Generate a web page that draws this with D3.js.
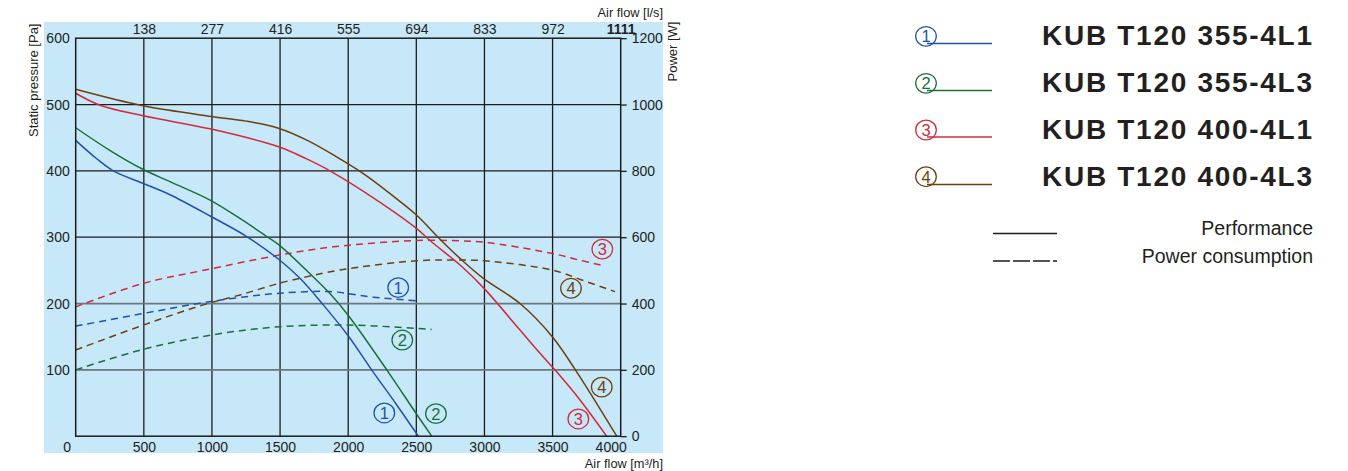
<!DOCTYPE html>
<html><head><meta charset="utf-8">
<script src="https://cdn.jsdelivr.net/npm/d3@7"></script>
<style>
body{margin:0;background:#fff}
svg{display:block}
text{font-family:"Liberation Sans",Arial,Helvetica,sans-serif;fill:#231f20}
</style>
</head><body>
<svg id="chart" width="1348" height="471"></svg>
<script>
// ---------- data ----------
const flowTicks = [0, 500, 1000, 1500, 2000, 2500, 3000, 3500, 4000];
const lpsLabels = ["", "138", "277", "416", "555", "694", "833", "972", "1111"];
const pressureTicks = [0, 100, 200, 300, 400, 500, 600];
const powerTicks = [0, 200, 400, 600, 800, 1000, 1200];

const models = ["KUB T120 355-4L1", "KUB T120 355-4L3", "KUB T120 400-4L1", "KUB T120 400-4L3"];
const markers = ["1", "2", "3", "4"];
const colors = ["#2152a6", "#17703a", "#cf2b3a", "#6b3f0e"];

// performance curves (air flow m3/h, static pressure Pa)
const flow1 = [0, 150, 276, 496, 692, 986, 1255, 1494, 1646, 1817, 2001, 2172, 2350, 2515];
const pressure1 = [446, 419, 400, 381, 364, 332, 301, 266, 238, 198, 151, 100, 49, 0];
const flow2 = [0, 250, 496, 700, 986, 1200, 1402, 1494, 1744, 1866, 2001, 2283, 2503, 2613];
const pressure2 = [465, 431, 402, 383, 356, 329, 301, 288, 240, 215, 182, 100, 33, 0];
const flow3 = [0, 178, 496, 995, 1494, 1695, 1866, 2209, 2503, 2600, 2821, 2992, 3261, 3408, 3530, 3700, 3897];
const pressure3 = [517, 499, 483, 463, 436, 418, 400, 356, 313, 295, 258, 224, 160, 125, 97, 55, 0];
const flow4 = [0, 496, 995, 1250, 1494, 1700, 1900, 2111, 2368, 2503, 2674, 2821, 2992, 3261, 3498, 3677, 3971];
const pressure4 = [523, 498, 482, 475, 464, 446, 423, 396, 356, 333, 297, 268, 238, 200, 150, 97, 0];

// power consumption curves (air flow m3/h, power W)
const powerFlow1 = [0, 496, 912, 1200, 1494, 1866, 2184, 2515];
const power1 = [332, 370, 401, 418, 431, 436, 419, 408];
const powerFlow2 = [0, 496, 995, 1494, 2001, 2503, 2613];
const power2 = [200, 262, 305, 330, 335, 325, 322];
const powerFlow3 = [0, 496, 949, 1494, 1891, 2503, 2821, 2999, 3498, 3677, 3872];
const power3 = [390, 461, 501, 546, 571, 590, 589, 585, 551, 533, 514];
const powerFlow4 = [0, 496, 936, 1206, 1494, 1646, 1940, 2503, 2845, 2999, 3498, 3714, 3958];
const power4 = [260, 335, 396, 426, 461, 476, 501, 529, 531, 529, 501, 471, 436];

// in-chart curve markers (series index, air flow, pressure)
const labelSeries = [0, 1, 0, 1, 2, 3, 3, 2];
const labelFlow = [2367, 2397, 2265, 2644, 3865, 3635, 3861, 3689];
const labelPressure = [224, 145, 35, 34, 282, 223, 74, 26];

// ---------- layout ----------
const svg = d3.select("#chart");
const x = d3.scaleLinear().domain([0, 4000]).range([75.7, 620.7]);
const yP = d3.scaleLinear().domain([0, 600]).range([436.2, 38.2]);
const yW = d3.scaleLinear().domain([0, 1200]).range([436.2, 38.2]);

svg.append("rect").attr("width", 1348).attr("height", 471).attr("fill", "#fff");
svg.append("rect").attr("x", 44).attr("y", 22).attr("width", 619).attr("height", 431).attr("fill", "#c7e8f9");

// grid
const grid = svg.append("g");
grid.selectAll("line.v").data(flowTicks.slice(1, -1)).join("line")
  .attr("x1", d => x(d)).attr("x2", d => x(d)).attr("y1", yP(600)).attr("y2", yP(0))
  .attr("stroke", "#1c1c1c").attr("stroke-width", 1.3);
grid.selectAll("line.h").data(pressureTicks.slice(1, -1)).join("line")
  .attr("x1", x(0)).attr("x2", x(4000)).attr("y1", d => yP(d)).attr("y2", d => yP(d))
  .attr("stroke", d => d <= 200 ? "#6c767c" : "#1c1c1c").attr("stroke-width", d => d <= 200 ? 1.7 : 1.3);

// axes
const fontSize = 14;
const bottomAxis = svg.append("g").attr("transform", `translate(0,${yP(0)})`)
  .call(d3.axisBottom(x).tickValues(flowTicks).tickSize(0).tickPadding(5.5).tickFormat(d3.format("d")));
bottomAxis.select(".domain").remove();
bottomAxis.selectAll("text").attr("font-size", fontSize).attr("font-family", null)
  .attr("dx", d => d === 0 ? -9 : (d === 4000 ? -10 : 0));

const topAxis = svg.append("g").attr("transform", `translate(0,${yP(600)})`)
  .call(d3.axisTop(x).tickValues(flowTicks).tickSize(0).tickPadding(4).tickFormat((d, i) => lpsLabels[i]));
topAxis.select(".domain").remove();
topAxis.selectAll("text").attr("font-size", fontSize).attr("font-family", null)
  .attr("font-weight", (d, i) => i === lpsLabels.length - 1 ? "bold" : null);

const leftAxis = svg.append("g").attr("transform", `translate(${x(0)},0)`)
  .call(d3.axisLeft(yP).tickValues(pressureTicks.slice(1)).tickSize(0).tickPadding(6).tickFormat(d3.format("d")));
leftAxis.select(".domain").remove();
leftAxis.selectAll("text").attr("font-size", fontSize).attr("font-family", null);

const rightAxis = svg.append("g").attr("transform", `translate(${x(4000)},0)`)
  .call(d3.axisRight(yW).tickValues(powerTicks).tickSize(6).tickPadding(5).tickFormat(d3.format("d")));
rightAxis.select(".domain").remove();
rightAxis.selectAll("line").attr("stroke", "#1c1c1c").attr("stroke-width", 1.3);
rightAxis.selectAll("text").attr("font-size", fontSize).attr("font-family", null);

// curves
const line = d3.line().x(d => x(d[0])).y(d => d[2](d[1])).curve(d3.curveCatmullRom.alpha(0.5));
const perf = [[flow1, pressure1], [flow2, pressure2], [flow3, pressure3], [flow4, pressure4]];
const pow = [[powerFlow1, power1], [powerFlow2, power2], [powerFlow3, power3], [powerFlow4, power4]];
const plot = svg.append("g");
pow.forEach(([f, v], i) => {
  plot.append("path").attr("d", line(f.map((q, j) => [q, v[j], yW])))
    .attr("fill", "none").attr("stroke", colors[i]).attr("stroke-width", 1.5).attr("stroke-dasharray", "7,5");
});
perf.forEach(([f, v], i) => {
  plot.append("path").attr("d", line(f.map((q, j) => [q, v[j], yP])))
    .attr("fill", "none").attr("stroke", colors[i]).attr("stroke-width", 1.5);
});

// frame
svg.append("rect").attr("x", x(0)).attr("y", yP(600)).attr("width", x(4000) - x(0)).attr("height", yP(0) - yP(600))
  .attr("fill", "none").attr("stroke", "#1c1c1c").attr("stroke-width", 1.5);

// circled number marker
function circled(g, cx, cy, idx) {
  g.append("ellipse").attr("cx", cx).attr("cy", cy).attr("rx", 10.3).attr("ry", 9.8)
    .attr("fill", "none").attr("stroke", colors[idx]).attr("stroke-width", 1.25);
  g.append("text").attr("x", cx).attr("y", cy + 6).attr("text-anchor", "middle")
    .attr("font-size", 16.5).style("fill", colors[idx]).text(markers[idx]);
}

const marks = svg.append("g");
labelSeries.forEach((s, i) => circled(marks, x(labelFlow[i]), yP(labelPressure[i]), s));

// axis titles
svg.append("text").attr("transform", "translate(38,23.5) rotate(-90)").attr("text-anchor", "end")
  .attr("font-size", 13).text("Static pressure [Pa]");
svg.append("text").attr("transform", "translate(677,21.5) rotate(-90)").attr("text-anchor", "end")
  .attr("font-size", 13).text("Power [W]");
svg.append("text").attr("x", 663).attr("y", 17).attr("text-anchor", "end").attr("font-size", 12.8).text("Air flow [l/s]");
svg.append("text").attr("x", 663).attr("y", 468).attr("text-anchor", "end").attr("font-size", 12.8).text("Air flow [m\u00b3/h]");

// legend
const legend = svg.append("g");
const rowY = [45, 92, 138.5, 186];
const circleY = [36.3, 83.3, 130, 176.7];
models.forEach((m, i) => {
  legend.append("line").attr("x1", 927).attr("x2", 992).attr("y1", rowY[i] - 1.5).attr("y2", rowY[i] - 1.5)
    .attr("stroke", colors[i]).attr("stroke-width", 1.6);
  circled(legend, 926, circleY[i], i);
  legend.append("text").attr("x", 1312).attr("y", rowY[i]).attr("text-anchor", "end")
    .attr("font-size", 28).attr("font-weight", "bold").attr("textLength", 270).attr("lengthAdjust", "spacing").text(m);
});
legend.append("line").attr("x1", 993).attr("x2", 1057).attr("y1", 233.5).attr("y2", 233.5)
  .attr("stroke", "#1c1c1c").attr("stroke-width", 1.6);
legend.append("line").attr("x1", 993).attr("x2", 1057).attr("y1", 261).attr("y2", 261)
  .attr("stroke", "#1c1c1c").attr("stroke-width", 1.6).attr("stroke-dasharray", "17,3");
legend.append("text").attr("x", 1313).attr("y", 235).attr("text-anchor", "end").attr("font-size", 19.5).text("Performance");
legend.append("text").attr("x", 1313).attr("y", 263).attr("text-anchor", "end").attr("font-size", 19.5).text("Power consumption");
</script>
</body></html>
